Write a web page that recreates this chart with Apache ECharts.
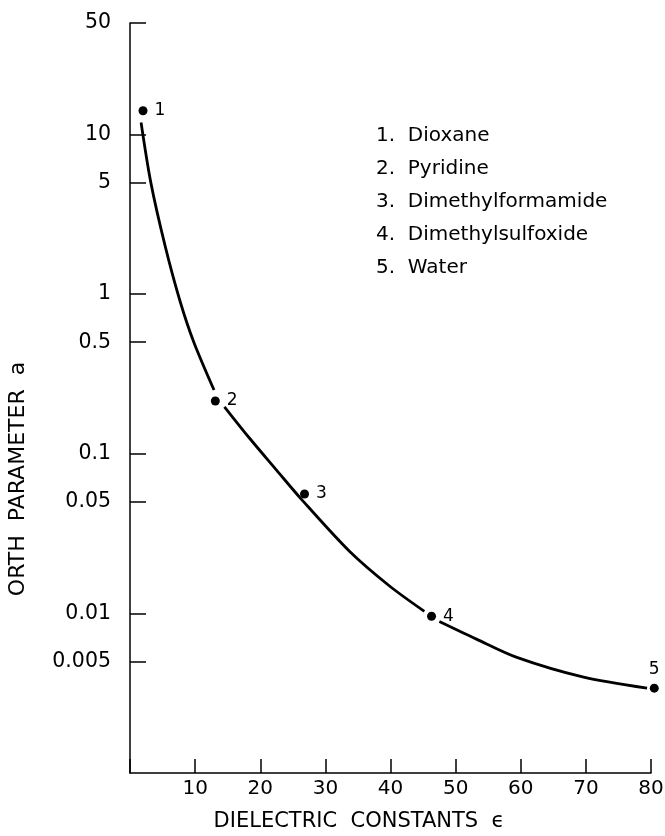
<!DOCTYPE html>
<html>
<head>
<meta charset="utf-8">
<script src="https://cdn.jsdelivr.net/npm/echarts@6/dist/echarts.min.js"></script>
<style>
  html, body { margin: 0; padding: 0; background: #fff; }
  #main { width: 665px; height: 836px; }
</style>
</head>
<body>
<div id="main"></div>
<script>
// solvents (points)
var solventNo = ['1', '2', '3', '4', '5'];
var solventEps = [2.0, 13.1, 26.8, 46.3, 80.5];
var solventA = [14.1, 0.214, 0.056, 0.0096, 0.0034];
var solventNames = ['Dioxane', 'Pyridine', 'Dimethylformamide', 'Dimethylsulfoxide', 'Water'];

// drawn curve, with breaks (null) where the curve stops near points 2 and 4
var curveEps = [1.7, 3.2, 5.4, 7.7, 9.8, 12.9, null, 14.5, 18.3, 22.5, 26.3, 33.7, 39.8, 45.2, null, 47.5, 53.2, 59.4, 69.5, 79.4];
var curveA = [11.9, 5.0, 2.0, 0.90, 0.50, 0.251, null, 0.197, 0.126, 0.079, 0.052, 0.0245, 0.0149, 0.0103, null, 0.0089, 0.0069, 0.0053, 0.0040, 0.0034];

// tick labels
var yTicks = [0.005, 0.01, 0.05, 0.1, 0.5, 1, 5, 10, 50];
var xTicks = [10, 20, 30, 40, 50, 60, 70, 80];

var font = 'DejaVu Sans';
var chart = echarts.init(document.getElementById('main'));

var curveData = [];
for (var i = 0; i < curveEps.length; i++) {
    curveData.push(curveEps[i] == null ? ['-', '-'] : [curveEps[i], curveA[i]]);
}
var pointData = [];
for (var j = 0; j < solventEps.length; j++) {
    pointData.push({
        value: [solventEps[j], solventA[j]],
        name: solventNo[j],
        label: { position: j === 4 ? 'top' : 'right', distance: j === 4 ? 6 : 7 }
    });
}

// key text lines
var keyLines = [];
for (var k = 0; k < solventNames.length; k++) {
    keyLines.push({
        type: 'text',
        left: 376,
        top: 126 + k * 33,
        style: {
            text: solventNo[k] + '.  ' + solventNames[k],
            font: '20px "' + font + '"',
            fill: '#000'
        }
    });
}

var option = {
    animation: false,
    backgroundColor: '#fff',
    grid: { left: 130, right: 14, top: 23, bottom: 63, outerBoundsMode: 'none' },
    xAxis: {
        type: 'value',
        min: 0,
        max: 80,
        interval: 10,
        splitLine: { show: false },
        axisLine: { lineStyle: { color: '#000', width: 1.5 } },
        axisTick: { inside: true, length: 14, lineStyle: { color: '#000', width: 1.5 } },
        axisLabel: {
            margin: 6,
            color: '#000',
            fontFamily: font,
            fontSize: 20,
            formatter: function (v) { return xTicks.indexOf(v) >= 0 ? String(v) : ''; }
        }
    },
    yAxis: {
        type: 'log',
        logBase: 10,
        min: 0.001,
        max: 50,
        splitLine: { show: false },
        axisLine: { lineStyle: { color: '#000', width: 1.5 } },
        axisTick: {
            inside: true, length: 16,
            customValues: yTicks,
            lineStyle: { color: '#000', width: 1.5 }
        },
        axisLabel: {
            margin: 19,
            color: '#000',
            fontFamily: font,
            fontSize: 20.5,
            customValues: yTicks,
            formatter: function (v) { return String(+(+v).toPrecision(3)); }
        }
    },
    graphic: keyLines.concat([
        {
            type: 'text',
            x: 18,
            y: 479,
            rotation: Math.PI / 2,
            style: {
                text: 'ORTH  PARAMETER  a',
                font: '22px "' + font + '"',
                fill: '#000',
                align: 'center',
                verticalAlign: 'middle'
            }
        },
        {
            type: 'text',
            x: 359,
            y: 822,
            style: {
                text: 'DIELECTRIC  CONSTANTS  ϵ',
                font: '21px "' + font + '"',
                fill: '#000',
                align: 'center',
                verticalAlign: 'middle'
            }
        }
    ]),
    series: [
        {
            type: 'line',
            smooth: 0.3,
            showSymbol: false,
            connectNulls: false,
            lineStyle: { color: '#000', width: 2.8 },
            data: curveData
        },
        {
            type: 'scatter',
            symbol: 'circle',
            symbolSize: 9,
            clip: false,
            itemStyle: { color: '#000', opacity: 1 },
            label: {
                show: true,
                color: '#000',
                fontFamily: font,
                fontSize: 17,
                formatter: '{b}'
            },
            data: pointData
        }
    ]
};

chart.setOption(option);
</script>
</body>
</html>
